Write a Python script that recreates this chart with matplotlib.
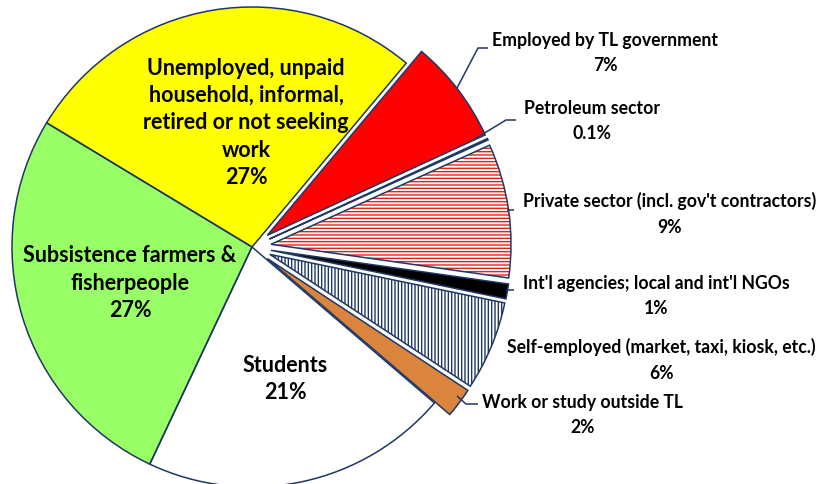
import matplotlib
matplotlib.use('Agg')
import matplotlib.pyplot as plt

plt.rcParams['font.family'] = ['Lato', 'DejaVu Sans']
plt.rcParams['hatch.linewidth'] = 1.0

categories = ["Unemployed, unpaid\nhousehold, informal,\nretired or not seeking\nwork",
              "Subsistence farmers &\nfisherpeople",
              "Students",
              "Work or study outside TL",
              "Self-employed (market, taxi, kiosk, etc.)",
              "Int'l agencies; local and int'l NGOs",
              "Private sector (incl. gov't contractors)",
              "Petroleum sector",
              "Employed by TL government"]
values = [27.4, 26.6, 20.7, 2.0, 6.0, 1.0, 9.0, 0.1, 7.0]
pct_labels = ["27%", "27%", "21%", "2%", "6%", "1%", "9%", "0.1%", "7%"]
exploded = [False, False, False, True, True, True, True, True, True]
fill_colors = ['#FFFF00', '#99FF66', '#FFFFFF', '#DA843E', '#FFFFFF',
               '#000000', '#FFFFFF', '#FFFFFF', '#FF0000']
hatches = [None, None, None, None, '|||||', None, '-----', None, None]
hatch_colors = [None, None, None, None, '#1F3864', None, '#E8201A', None, None]

NAVY = '#1F3864'
W, H = 819, 484
CX, CY, R = 252, 247, 240

def P(x, y):
    return ((x - CX) / R, (CY - y) / R)

fig = plt.figure(figsize=(W / 100, H / 100), dpi=100)
ax = fig.add_axes([0, 0, 1, 1])

explode = [0.08 if e else 0.0 for e in exploded]
w1, _ = ax.pie(values, explode=explode, startangle=50, colors=fill_colors,
               wedgeprops=dict(linewidth=0))
for w, h, hc in zip(w1, hatches, hatch_colors):
    if h:
        w.set_hatch(h)
        w.set_edgecolor(hc)
w2, _ = ax.pie(values, explode=explode, startangle=50,
               wedgeprops=dict(facecolor='none', edgecolor=NAVY, linewidth=1.1))

ax.set_xlim(-CX / R, (W - CX) / R)
ax.set_ylim(-(H - CY) / R, CY / R)
ax.set_aspect('auto')
ax.axis('off')

inner_fs = 15.5
outer_fs = 12.7
# inside labels
inner_pos = [(246, 123), (130, 283), (285, 379)]
for i, (x, y) in enumerate(inner_pos):
    ax.text(*P(x, y), categories[i] + "\n" + pct_labels[i], ha='center', va='center',
            multialignment='center', fontsize=inner_fs, fontweight='bold',
            linespacing=1.38, color='black')

# outside labels (center positions)
outer_pos = {3: (583, 415), 4: (661, 360), 5: (656, 296), 6: (670, 214),
             7: (592, 121), 8: (605, 53)}
for i, (x, y) in outer_pos.items():
    ax.text(*P(x, y), categories[i] + "\n" + pct_labels[i], ha='center', va='center',
            multialignment='center', fontsize=outer_fs, fontweight='bold',
            linespacing=1.6, color='black')

# leader lines
leaders = [
    [(488, 48), (478, 48), (457, 88)],
    [(516, 120), (506, 120), (473, 140)],
    [(507, 210), (514, 210)],
    [(506, 290), (514, 290)],
    [(457, 396), (466, 404), (478, 404)],
]
for pts in leaders:
    xs, ys = zip(*[P(x, y) for x, y in pts])
    ax.plot(xs, ys, color=NAVY, lw=1.1, solid_capstyle='butt')

fig.savefig('out.png', dpi=100)
